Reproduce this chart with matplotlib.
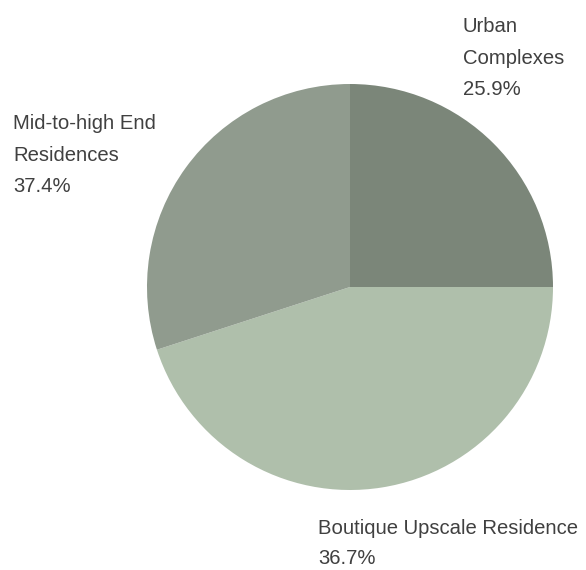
import matplotlib
matplotlib.use('Agg')
import matplotlib.pyplot as plt

# slice sizes as drawn in the picture (share of the circle)
segments = ['Urban Complexes', 'Boutique Upscale Residence', 'Mid-to-high End Residences']
drawn_share = [25.0, 45.0, 30.0]
# percentages printed on the labels
label_pct = [25.9, 36.7, 37.4]
label_text = ['Urban\nComplexes', 'Boutique Upscale Residence', 'Mid-to-high End\nResidences']
colors = ['#7b8679', '#afbfab', '#909b8e']

W, H = 586, 570
cx, cy, r = 350, 287, 203  # pie centre / radius in pixels (from top-left)

fig = plt.figure(figsize=(W/100, H/100), dpi=100)
ax = fig.add_axes([0, 0, 1, 1])
ax.pie(drawn_share, colors=colors, startangle=90, counterclock=False,
       wedgeprops=dict(linewidth=0))
ax.set_xlim(-cx/r, (W-cx)/r)
ax.set_ylim(-(H-cy)/r, cy/r)
ax.set_aspect('equal')
ax.axis('off')

# label anchor (left x, first baseline y) in pixels, line step
label_pos = [(463, 32, 31.7), (318, 534, 30.5), (13, 129, 31.7)]
for name, pct, (px, py, step) in zip(label_text, label_pct, label_pos):
    lines = name.split('\n') + [f'{pct}%']
    for i, line in enumerate(lines):
        fig.text(px/W, 1 - (py + i*step)/H, line, ha='left', va='baseline',
                 fontsize=14.6, color='#404040', family='Liberation Sans')

fig.savefig('out.png', dpi=100)
